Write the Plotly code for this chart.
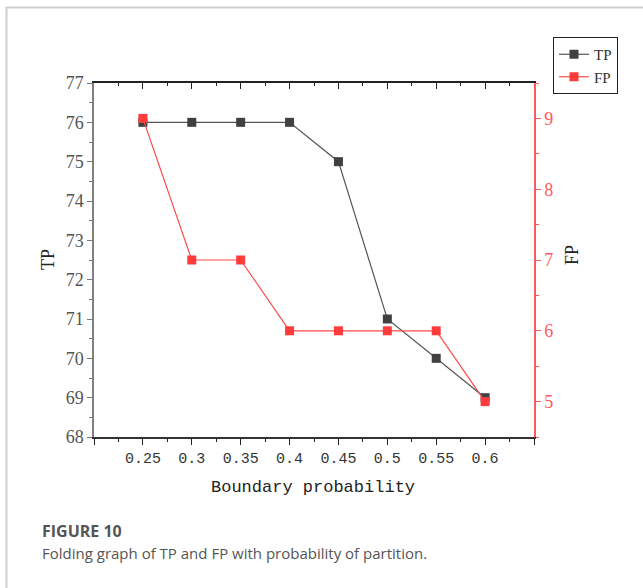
import plotly.graph_objects as go

x_vals = [0.25, 0.3, 0.35, 0.4, 0.45, 0.5, 0.55, 0.6]
tp_vals = [76, 76, 76, 76, 75, 71, 70, 69]
fp_vals = [9, 7, 7, 6, 6, 6, 6, 5]
x_tickvals = [0.2, 0.25, 0.3, 0.35, 0.4, 0.45, 0.5, 0.55, 0.6, 0.65]
x_ticktext = ["", "0.25", "0.3", "0.35", "0.4", "0.45", "0.5", "0.55", "0.6", ""]

W, H = 643, 588
L, R, T, B = 94, 534, 83, 437
pw, ph = R - L, B - T

def px(x):
    return (x - L) / pw

def py(y):
    return (B - y) / ph

TP_COL = "#404040"
FP_COL = "#ff3b3b"
serif = "Liberation Serif, Times New Roman, serif"
mono = "Liberation Mono, DejaVu Sans Mono, monospace"

fig = go.Figure()
fig.add_trace(go.Scatter(
    x=x_vals, y=tp_vals, name="TP", mode="lines+markers",
    line=dict(color="#555555", width=1.2),
    marker=dict(symbol="square", size=9, color=TP_COL),
    xaxis="x", yaxis="y"))
fig.add_trace(go.Scatter(
    x=x_vals, y=fp_vals, name="FP", mode="lines+markers",
    line=dict(color="#ff4a4a", width=1.2),
    marker=dict(symbol="square", size=9, color=FP_COL),
    xaxis="x", yaxis="y2"))

fig.update_layout(
    width=W, height=H,
    margin=dict(l=L, r=W - R, t=T, b=H - B),
    paper_bgcolor="white", plot_bgcolor="white",
    showlegend=True,
    legend=dict(x=px(553), y=py(37), xanchor="left", yanchor="top",
                bordercolor="#222222", borderwidth=1,
                font=dict(family=serif, size=15, color="#333333"),
                itemwidth=30, tracegroupgap=0,
                bgcolor="white"),
    xaxis=dict(range=[0.2, 0.65], tickvals=x_tickvals, ticktext=x_ticktext,
               ticks="outside", ticklen=6, tickwidth=1.2, tickcolor="#222222",
               showline=True, linecolor="#333333", linewidth=1.5,
               showgrid=False, zeroline=False,
               minor=dict(dtick=0.025, tick0=0.2, ticks="outside", ticklen=3,
                          tickcolor="#222222", showgrid=False),
               tickfont=dict(family=mono, size=15, color="#333333")),
    xaxis2=dict(range=[0.2, 0.65], overlaying="x", side="top",
                tickvals=x_tickvals, showticklabels=False,
                ticks="inside", ticklen=6, tickwidth=1.2, tickcolor="#222222",
                showline=True, linecolor="#222222", linewidth=1.5,
                showgrid=False, zeroline=False,
                minor=dict(dtick=0.025, tick0=0.2, ticks="inside", ticklen=3,
                           tickcolor="#222222", showgrid=False)),
    yaxis=dict(range=[68, 77], dtick=1, tick0=68,
               ticks="outside", ticklen=5, tickwidth=1.2, tickcolor="#777777",
               showline=True, linecolor="#808080", linewidth=1.5,
               showgrid=False, zeroline=False,
               minor=dict(dtick=0.5, ticks="outside", ticklen=3,
                          tickcolor="#777777", showgrid=False),
               tickfont=dict(family=serif, size=18, color="#555555")),
    yaxis2=dict(range=[4.5, 9.5], dtick=1, tick0=5, overlaying="y", side="right",
                ticks="outside", ticklen=5, tickwidth=1.2, tickcolor="#ff5a5a",
                showline=True, linecolor="#ff5a5a", linewidth=1.5,
                showgrid=False, zeroline=False,
                minor=dict(dtick=0.5, ticks="outside", ticklen=3,
                           tickcolor="#ff5a5a", showgrid=False),
                tickfont=dict(family=serif, size=18, color="#ff5a5a")),
)
# invisible trace to activate the top axis
fig.add_trace(go.Scatter(x=[0.2], y=[68], xaxis="x2", yaxis="y", mode="markers",
                         marker=dict(opacity=0), showlegend=False, hoverinfo="skip"))

annotations = [
    dict(text="TP", x=px(48), y=py(260), textangle=-90,
         font=dict(family=serif, size=18, color="#222222")),
    dict(text="FP", x=px(572), y=py(255), textangle=-90,
         font=dict(family=serif, size=18, color="#222222")),
    dict(text="Boundary probability", x=px(313), y=py(487),
         font=dict(family=mono, size=17, color="#222222")),
    dict(text="<b>FIGURE 10</b>", x=px(40), y=py(531), xanchor="left",
         font=dict(family="Open Sans", size=16, color="#555555")),
    dict(text="Folding graph of TP and FP with probability of partition.",
         x=px(40), y=py(553), xanchor="left",
         font=dict(family="Open Sans", size=15, color="#555555")),
]
for a in annotations:
    a.setdefault("xanchor", "center")
    fig.add_annotation(xref="paper", yref="paper", showarrow=False,
                       yanchor="middle", **a)

# light frame around the figure panel
fig.add_shape(type="line", xref="paper", yref="paper", layer="above",
              x0=px(6), x1=px(643), y0=py(7.5), y1=py(7.5),
              line=dict(color="#cfcfcf", width=2))
fig.add_shape(type="line", xref="paper", yref="paper", layer="above",
              x0=px(6.5), x1=px(6.5), y0=py(7), y1=py(588),
              line=dict(color="#cfcfcf", width=2))

fig.write_html("out.html", config={"displayModeBar": False},
               post_script="document.body.style.margin='0';document.body.style.padding='0';")
